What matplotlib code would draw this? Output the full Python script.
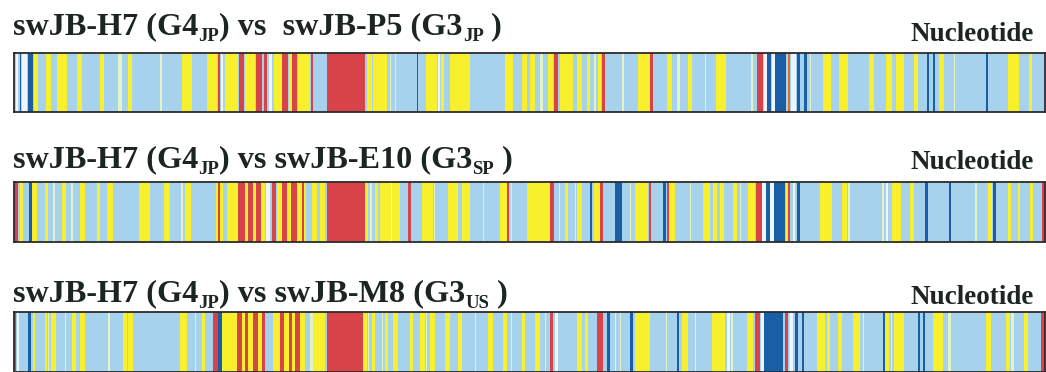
import matplotlib
matplotlib.use('Agg')
from matplotlib import pyplot as plt

plt.rcParams['font.family'] = ['Liberation Serif', 'DejaVu Serif']

# titles of the three comparisons, as (text, is_subscript) pieces
title1 = [('swJB-H7 (G4', 0), ('JP', 1), (') vs  swJB-P5 (G3', 0), ('JP', 1), (' )', 0)]
title2 = [('swJB-H7 (G4', 0), ('JP', 1), (') vs swJB-E10 (G3', 0), ('SP', 1), (' )', 0)]
title3 = [('swJB-H7 (G4', 0), ('JP', 1), (') vs swJB-M8 (G3', 0), ('US', 1), (' )', 0)]
titles = [title1, title2, title3]
side_label = 'Nucleotide'

# genome span drawn in each strip
span = (14, 1045)

# segments: (start, end, code)  Y yellow, R red, D dark blue, W white, P pale green, O orange
strip1 = [(16,18,'W'),(20,21,'D'),(22,27,'W'),(28,33,'D'),(34,38,'Y'),(46,51,'Y'),(57,67,'Y'),(77,82,'Y'),
          (100,104,'Y'),(118,122,'P'),(128,132,'Y'),(160,162,'P'),(182,192,'Y'),(207,217,'Y'),(218,219.5,'R'),
          (221,223,'W'),(225,238,'Y'),(239,244,'R'),(245,255,'Y'),(256,262,'R'),(264,267,'R'),(269,272,'W'),
          (274,282,'Y'),(282,288,'R'),(289,292,'Y'),(292,297,'R'),(298,310,'Y'),(311,312.5,'R'),(327,365,'R'),
          (367,372,'Y'),(373,387,'Y'),(390,391,'P'),(395,396,'P'),(417,418,'D'),(426,437,'Y'),(438,440,'W'),
          (441,444,'Y'),(450,470,'Y'),(505,513,'Y'),(522,527,'Y'),(530,535,'Y'),(540,543,'P'),(548,553,'Y'),
          (554,558,'R'),(560,573,'Y'),(577,582,'Y'),(587,590,'Y'),(594,596,'P'),(598,601,'Y'),(602,605,'R'),
          (622,624,'P'),(638,650,'Y'),(650,653,'R'),(667,672,'Y'),(677,680,'P'),(688,692,'Y'),(705,706,'P'),
          (716,726,'Y'),(751,753,'P'),(757,763,'R'),(764,767,'W'),(767,771,'D'),(772,775,'W'),(775,786,'D'),
          (788,790,'O'),(791,796,'W'),(797,800,'D'),(804,807,'D'),(810,811,'P'),(823,831,'Y'),(839,848,'Y'),
          (869,874,'Y'),(886,892,'Y'),(896,904,'Y'),(914,918,'Y'),(927,929,'D'),(933,935,'D'),(939,944,'Y'),
          (954,955,'P'),(986,988,'D'),(1008,1019,'Y'),(1029,1032,'Y')]

strip2 = [(14,18,'R'),(20,23,'Y'),(29,32,'D'),(32,37,'Y'),(45,48,'Y'),(53,55,'P'),(62,66,'Y'),(71,73,'P'),
          (80,85,'Y'),(97,100,'Y'),(107,113,'Y'),(139,150,'Y'),(164,170,'Y'),(181,183,'P'),(185,191,'Y'),
          (216,218,'Y'),(218,219.5,'R'),(219.5,223,'Y'),(227,238,'Y'),(238,245,'R'),(245,248,'Y'),(248,253,'R'),
          (253,256,'Y'),(256,261,'R'),(261,265,'Y'),(266,270,'W'),(272,276,'R'),(277,282,'Y'),(282,287,'R'),
          (287,291,'Y'),(291,297,'R'),(297,302,'Y'),(302,303.5,'R'),(303.5,306,'Y'),(312,317,'Y'),(320,325,'Y'),
          (327,365,'R'),(365,368,'Y'),(370,372,'P'),(375,378,'Y'),(380,391,'Y'),(391,392,'W'),(392,400,'Y'),
          (408,410.5,'R'),(422,433,'Y'),(434,435,'P'),(448,458,'Y'),(462,470,'Y'),(483,484,'P'),(500,507,'Y'),
          (507,508.5,'R'),(511,512,'P'),(527,535,'Y'),(535,550,'Y'),(550,554,'R'),(559,560,'P'),(565,568,'Y'),
          (575,576,'P'),(577,582,'Y'),(590,592,'D'),(594,600,'Y'),(600,603,'R'),(615,622,'D'),(630,631,'P'),
          (635,648,'Y'),(649,651,'R'),(663,666,'D'),(667,669,'R'),(669,675,'Y'),(690,691,'P'),(703,710,'Y'),
          (713,717,'Y'),(720,724,'Y'),(733,737,'Y'),(740,741,'P'),(748,755,'Y'),(756,762,'R'),(762,766,'W'),
          (766,770,'D'),(770,774,'W'),(774,785,'D'),(786,788,'Y'),(788,790,'R'),(793,795,'W'),(797,800,'D'),
          (820,832,'Y'),(842,847,'Y'),(848,850,'P'),(882,884,'P'),(886,888,'W'),(892,901,'Y'),(910,914,'Y'),
          (925,928,'D'),(949,951,'D'),(975,977,'P'),(988,992,'Y'),(993,996,'D'),(1008,1011,'Y'),(1018,1020,'Y'),
          (1030,1033,'Y'),(1042,1045,'R')]

strip3 = [(14,16,'R'),(17,19,'W'),(28,31,'D'),(33,35,'Y'),(45,47,'Y'),(48,49,'P'),(51,56,'Y'),(65,66,'P'),
          (72,76,'Y'),(80,85,'Y'),(108,110,'P'),(123,127,'Y'),(128,133,'Y'),(180,187,'Y'),(195,196,'P'),
          (202,205,'Y'),(213,218,'R'),(218,222,'D'),(222,237,'Y'),(237,242,'R'),(242,245,'Y'),(245,248,'R'),
          (248,253,'Y'),(253,258,'R'),(258,262,'Y'),(262,265,'R'),(273,280,'Y'),(280,284,'R'),(284,289,'Y'),
          (289,292,'R'),(292,295,'Y'),(295,300,'R'),(300,305,'Y'),(310,313,'P'),(313,325,'Y'),(327,363,'R'),
          (363,367,'Y'),(368,369,'P'),(372,375,'Y'),(382,383,'P'),(385,388,'Y'),(393,398,'Y'),(410,413,'Y'),
          (420,425,'Y'),(426,427,'P'),(430,435,'Y'),(445,450,'Y'),(458,462,'Y'),(475,476,'P'),(488,493,'Y'),
          (503,507,'Y'),(511,512,'P'),(522,525,'Y'),(535,540,'Y'),(545,546,'P'),(550,553,'R'),(555,558,'W'),
          (577,582,'Y'),(585,588,'Y'),(597,603,'R'),(607,610,'D'),(615,616,'P'),(620,621,'P'),(630,633,'D'),
          (635,650,'Y'),(666,667,'P'),(677,679,'D'),(682,688,'Y'),(695,696,'P'),(712,725,'Y'),(727,730,'W'),
          (731,733,'P'),(747,753,'Y'),(755,760,'R'),(761,764,'W'),(764,783,'D'),(785,788,'R'),(789,790,'Y'),
          (790,793,'W'),(795,798,'D'),(802,804,'D'),(817,825,'Y'),(827,830,'Y'),(838,842,'Y'),(853,860,'Y'),
          (863,864,'P'),(883,885,'D'),(885,889,'Y'),(891,892,'P'),(894,904,'Y'),(918,920,'D'),(923,925,'D'),
          (933,943,'Y'),(948,951,'P'),(986,991,'Y'),(1006,1010,'Y'),(1011,1014,'P'),(1024,1028,'Y'),(1041,1045,'R')]

strips = [strip1, strip2, strip3]

colours = {'Y': '#f8f02c', 'R': '#d8434a', 'D': '#1a5ea6', 'W': '#eef6fa',
           'P': '#e4f3c4', 'O': '#e0702a'}
bg = '#a7d2ee'
ink = '#1c2424'

W, H = 1046, 372
fig = plt.figure(figsize=(W/100, H/100), dpi=100)
fig.patch.set_facecolor('white')
renderer = fig.canvas.get_renderer()

# pixel layout of each row: (title baseline, side label baseline, strip top, strip bottom)
rows = [(34, 41, 53, 112), (167, 169, 182, 242), (301, 304, 312, 372)]


def put_title(pieces, x, base):
    # lay the pieces one after another, subscripts smaller and dropped
    for txt, sub in pieces:
        size = 13.5 if sub else 23.2
        y = base + (7 if sub else 0)
        t = fig.text(x/W, 1-y/H, txt, fontsize=size, fontweight='bold', va='baseline', ha='left',
                     color=ink)
        x += t.get_window_extent(renderer).width


for i in range(3):
    tb, nb, top, bot = rows[i]
    ax = fig.add_axes([span[0]/W, 1-bot/H, (span[1]-span[0])/W, (bot-top)/H])
    ax.set_facecolor(bg)
    seg = strips[i]
    ax.bar([s[0] for s in seg], 1, width=[s[1]-s[0] for s in seg], bottom=0, align='edge',
           color=[colours[s[2]] for s in seg], linewidth=0)
    ax.set_xlim(span)
    ax.set_ylim(0, 1)
    ax.set_xticks([])
    ax.set_yticks([])
    for sp in ax.spines.values():
        sp.set_color('#2b2b2b')
        sp.set_linewidth(1.3)

    put_title(titles[i], 13, tb)
    fig.text(1034/W, 1-nb/H, side_label, fontsize=19.5, fontweight='bold', va='baseline', ha='right',
             color=ink)

plt.savefig('out.png', dpi=100)
